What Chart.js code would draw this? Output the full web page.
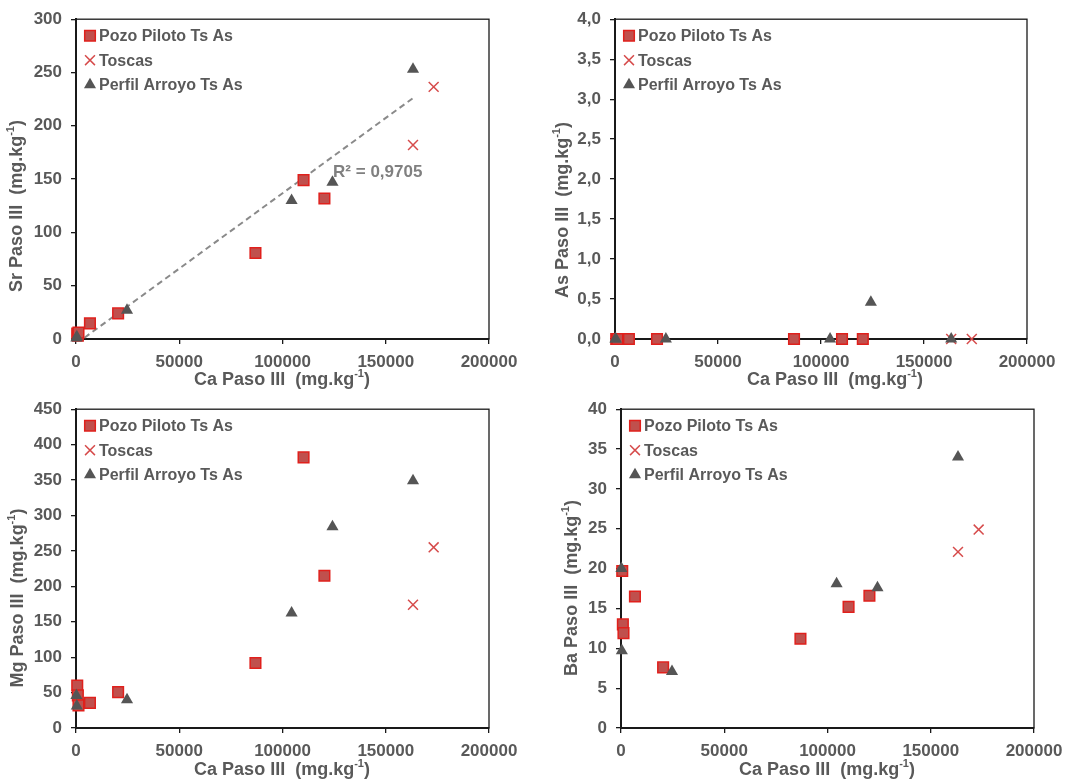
<!DOCTYPE html>
<html>
<head>
<meta charset="utf-8">
<script src="https://cdn.jsdelivr.net/npm/chart.js@4/dist/chart.umd.min.js"></script>
<style>
  html, body { margin: 0; padding: 0; background: #fff; }
  #sheet { position: relative; width: 1091px; height: 780px; }
  #sheet canvas { position: absolute; }
</style>
</head>
<body>
<div id="sheet">
  <canvas id="srChart" width="545" height="390" style="left:0;top:0"></canvas>
  <canvas id="asChart" width="546" height="390" style="left:545px;top:0"></canvas>
  <canvas id="mgChart" width="545" height="390" style="left:0;top:390px"></canvas>
  <canvas id="baChart" width="546" height="390" style="left:545px;top:390px"></canvas>
</div>
<script>
// Paso III extraction, mg.kg-1
var seriesNames = ['Pozo Piloto Ts As', 'Toscas', 'Perfil Arroyo Ts As'];

var pozoCa = [600, 900, 1200, 6750, 20400, 86900, 110200, 120300];
var pozoSr = [5, 3, 6, 14.7, 24, 80.7, 149, 131.8];
var pozoAs = [0, 0, 0, 0, 0, 0, 0, 0];
var pozoMg = [60, 46, 32, 35.4, 50.7, 91.8, 382, 215];
var pozoBa = [19.7, 13.0, 11.9, 16.5, 7.6, 11.2, 15.2, 16.6];

var toscasCa = [163200, 173200];
var toscasSr = [182, 236.5];
var toscasAs = [0, 0];
var toscasMg = [174, 255];
var toscasBa = [22.1, 24.9];

var perfilCa = [200, 400, 24700, 104400, 124200, 163200];
var perfilSr = [1, 2, 27, 130, 147, 253];
var perfilAs = [0, 0, 0, 0, 0.46, 0];
var perfilMg = [46, 31, 40, 162.5, 284, 349];
var perfilBa = [20, 9.7, 7.1, 18.1, 17.6, 34];

// axis ranges: [min, max, step]
var caRange = [0, 200000, 50000];
var srRange = [0, 300, 50];
var asRange = [0, 4, 0.5];
var mgRange = [0, 450, 50];
var baRange = [0, 40, 5];

// linear fit Sr vs Ca
var srFitCa = [200, 163200];
var srFitSlope = 0.001413;
var srFitIntercept = -4.6;
var srFitLabel = 'R\u00b2 = 0,9705';

var FONT = '"Liberation Sans", Arial, sans-serif';
var TEXT = '#595959';
var AXIS = '#1a1a1a';

var pozoStyle = { pointStyle: 'rect', pointRadius: 7.5, pointBackgroundColor: '#c0504d', pointBorderColor: '#e0201c', pointBorderWidth: 1.5 };
var toscasStyle = { pointStyle: 'crossRot', pointRadius: 7, pointBackgroundColor: '#d64b4b', pointBorderColor: '#d64b4b', pointBorderWidth: 1.5 };
var perfilStyle = { pointStyle: 'triangle', pointRadius: 7, pointBackgroundColor: '#555555', pointBorderColor: '#555555', pointBorderWidth: 0 };

function toPoints(xs, ys) {
  return xs.map(function (x, i) { return { x: x, y: ys[i] }; });
}

// "X Paso III  (mg.kg" + superscript "-1" + ")"
function drawUnitTitle(ctx, name, cx, cy, vertical) {
  var parts = [name + ' Paso III  (mg.kg', '-1', ')'];
  var big = 'bold 18px ' + FONT, small = 'bold 11px ' + FONT;
  ctx.save();
  ctx.translate(cx, cy);
  if (vertical) ctx.rotate(-Math.PI / 2);
  ctx.fillStyle = TEXT;
  ctx.textBaseline = 'middle';
  ctx.textAlign = 'left';
  ctx.font = big;
  var w0 = ctx.measureText(parts[0]).width;
  var w2 = ctx.measureText(parts[2]).width;
  ctx.font = small;
  var w1 = ctx.measureText(parts[1]).width;
  var x = -(w0 + w1 + w2) / 2;
  ctx.font = big;
  ctx.fillText(parts[0], x, 0);
  ctx.font = small;
  ctx.fillText(parts[1], x + w0, -6);
  ctx.font = big;
  ctx.fillText(parts[2], x + w0 + w1, 0);
  ctx.restore();
}

var panelDecor = {
  id: 'panelDecor',
  beforeDatasetsDraw: function (chart) {
    var a = chart.chartArea, ctx = chart.ctx;
    ctx.save();
    ctx.strokeStyle = AXIS;
    ctx.lineWidth = 1.3;
    ctx.strokeRect(a.left, a.top, a.right - a.left, a.bottom - a.top);
    ctx.restore();
  },
  afterDraw: function (chart, args, opts) {
    var ctx = chart.ctx, a = chart.chartArea;
    drawUnitTitle(ctx, 'Ca', opts.xTitlePos[0], opts.xTitlePos[1], false);
    drawUnitTitle(ctx, opts.yName, opts.yTitlePos[0], opts.yTitlePos[1], true);

    // legend inside the plot, top-left
    chart.data.datasets.slice(0, 3).forEach(function (ds, i) {
      var y = a.top + 16.5 + i * 24.5;
      ctx.save();
      ctx.fillStyle = ds.pointBackgroundColor;
      ctx.strokeStyle = ds.pointBorderColor;
      ctx.lineWidth = ds.pointBorderWidth;
      Chart.helpers.drawPoint(ctx, {
        pointStyle: ds.pointStyle, radius: ds.pointRadius,
        borderWidth: ds.pointBorderWidth, rotation: 0
      }, a.left + 14, y);
      ctx.fillStyle = TEXT;
      ctx.font = 'bold 16px ' + FONT;
      ctx.textBaseline = 'middle';
      ctx.textAlign = 'left';
      ctx.fillText(ds.label, a.left + 23, y + 1);
      ctx.restore();
    });

    if (opts.fitLabel) {
      ctx.save();
      ctx.fillStyle = '#808080';
      ctx.font = 'bold 17px ' + FONT;
      ctx.textBaseline = 'middle';
      ctx.fillText(opts.fitLabel.text,
        chart.scales.x.getPixelForValue(opts.fitLabel.at[0]),
        chart.scales.y.getPixelForValue(opts.fitLabel.at[1]));
      ctx.restore();
    }
  }
};

function makePanel(id, cfg) {
  var canvas = document.getElementById(id);
  var W = canvas.width, H = canvas.height, area = cfg.area;
  var datasets = [
    Object.assign({ label: seriesNames[0], data: toPoints(pozoCa, cfg.pozo), order: 3, clip: false }, pozoStyle),
    Object.assign({ label: seriesNames[1], data: toPoints(toscasCa, cfg.toscas), order: 2, clip: false }, toscasStyle),
    Object.assign({ label: seriesNames[2], data: toPoints(perfilCa, cfg.perfil), order: 1, clip: false }, perfilStyle)
  ];
  if (cfg.fit) {
    datasets.push({
      label: 'fit', data: cfg.fit, showLine: true, order: 4, clip: 0,
      borderColor: '#8a8a8a', borderWidth: 2, borderDash: [6, 4], pointRadius: 0
    });
  }
  var tickFont = { family: FONT, size: 17, weight: 'bold' };
  return new Chart(canvas, {
    type: 'scatter',
    data: { datasets: datasets },
    options: {
      responsive: false,
      animation: false,
      events: [],
      layout: { padding: { left: 0, top: area.top, right: W - area.right, bottom: 0 } },
      scales: {
        x: {
          type: 'linear', min: caRange[0], max: caRange[1],
          ticks: { stepSize: caRange[2], font: tickFont, color: TEXT, padding: 8, maxRotation: 0,
            callback: function (v) { return String(v); } },
          grid: { drawOnChartArea: false, drawTicks: true, tickLength: 5, color: AXIS, lineWidth: 1.3 },
          border: { display: true, color: AXIS, width: 2 },
          afterFit: function (scale) { scale.height = H - area.bottom; }
        },
        y: {
          type: 'linear', min: cfg.range[0], max: cfg.range[1],
          ticks: { stepSize: cfg.range[2], font: tickFont, color: TEXT, padding: 9,
            callback: function (v) { return cfg.decimals ? v.toFixed(1).replace('.', ',') : String(v); } },
          grid: { drawOnChartArea: false, drawTicks: true, tickLength: 5, color: AXIS, lineWidth: 1.3 },
          border: { display: true, color: AXIS, width: 2 },
          afterFit: function (scale) { scale.width = area.left; }
        }
      },
      plugins: {
        legend: { display: false },
        tooltip: { enabled: false },
        panelDecor: {
          yName: cfg.yName, xTitlePos: cfg.xTitlePos, yTitlePos: cfg.yTitlePos,
          fitLabel: cfg.fitLabel || null
        }
      }
    },
    plugins: [panelDecor]
  });
}

var srFit = srFitCa.map(function (x) { return { x: x, y: srFitIntercept + srFitSlope * x }; });

makePanel('srChart', {
  yName: 'Sr', range: srRange, pozo: pozoSr, toscas: toscasSr, perfil: perfilSr,
  area: { left: 76, right: 489, top: 17, bottom: 339 },
  xTitlePos: [282, 380], yTitlePos: [17, 206],
  fit: srFit, fitLabel: { text: srFitLabel, at: [124500, 156] }
});
makePanel('asChart', {
  yName: 'As', range: asRange, decimals: true, pozo: pozoAs, toscas: toscasAs, perfil: perfilAs,
  area: { left: 70, right: 482, top: 17, bottom: 339 },
  xTitlePos: [290, 380], yTitlePos: [18, 210]
});
makePanel('mgChart', {
  yName: 'Mg', range: mgRange, pozo: pozoMg, toscas: toscasMg, perfil: perfilMg,
  area: { left: 76, right: 489, top: 16, bottom: 338 },
  xTitlePos: [282, 380], yTitlePos: [18, 208]
});
makePanel('baChart', {
  yName: 'Ba', range: baRange, pozo: pozoBa, toscas: toscasBa, perfil: perfilBa,
  area: { left: 76, right: 489, top: 16, bottom: 338 },
  xTitlePos: [282, 380], yTitlePos: [27, 198]
});
</script>
</body>
</html>
